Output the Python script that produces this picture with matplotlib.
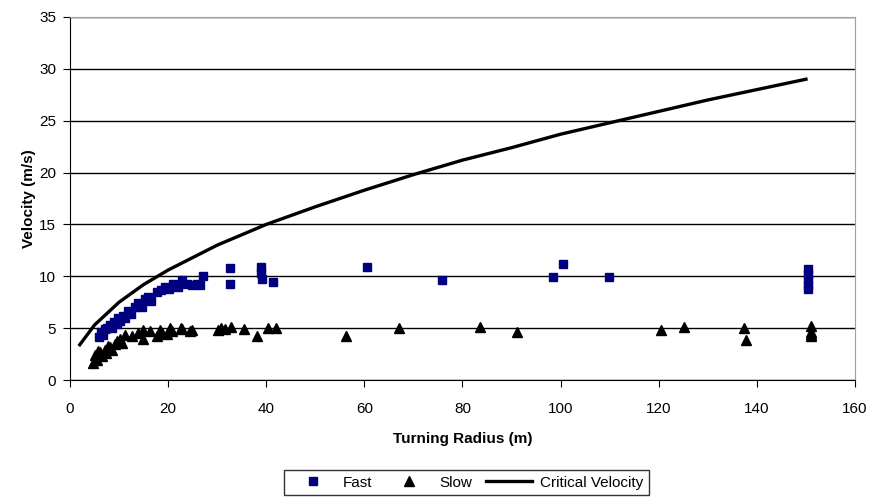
import numpy as np
import matplotlib
matplotlib.use('Agg')
import matplotlib.pyplot as plt

plt.rcParams['font.family'] = ['Liberation Sans', 'DejaVu Sans']

# fast runs
fast_r = [6.0, 6.3, 6.8, 7.2, 7.6, 8.2, 8.6, 9.0, 9.5, 9.8, 10.3, 10.8, 11.3, 11.8, 12.5,
          13.2, 13.9, 14.6, 15.3, 15.9, 16.6, 17.7, 18.5, 19.4, 20.2, 21.0, 22.0, 22.8,
          23.8, 24.9, 25.8, 26.5, 27.1, 32.6, 32.6, 38.9, 39.0, 39.2, 41.4, 60.5, 75.8,
          98.4, 100.5, 109.9, 150.5, 150.5, 150.5, 150.5, 150.5]
fast_v = [4.1, 4.6, 4.3, 4.9, 5.0, 5.3, 5.0, 5.6, 5.4, 6.0, 5.7, 6.2, 6.0, 6.7, 6.4,
          7.0, 7.4, 7.0, 7.8, 8.0, 7.6, 8.5, 8.7, 9.0, 8.8, 9.3, 9.0, 9.6,
          9.3, 9.2, 9.3, 9.2, 10.0, 10.8, 9.25, 10.9, 10.3, 9.7, 9.45, 10.9, 9.64,
          9.9, 11.2, 9.9, 10.7, 10.2, 9.7, 9.2, 8.8]

# slow runs
slow_r = [4.7, 5.1, 5.5, 5.8, 6.1, 6.6, 7.1, 7.4, 7.8, 8.2, 8.6, 9.2, 9.6, 10.2, 10.7,
          11.2, 12.6, 13.9, 14.9, 14.9, 16.3, 17.7, 18.3, 18.7, 19.7, 20.4, 20.7, 22.7,
          22.8, 24.4, 24.8, 30.2, 30.7, 31.6, 32.8, 35.5, 38.1, 40.4, 42.0, 56.3, 67.0,
          83.6, 91.1, 120.5, 125.2, 137.4, 137.8, 151.0, 151.0, 151.0, 151.0]
slow_v = [1.6, 2.4, 1.9, 2.8, 2.7, 2.3, 2.9, 2.6, 3.3, 3.2, 2.9, 3.5, 3.8, 4.0, 3.6,
          4.3, 4.2, 4.5, 4.0, 4.8, 4.7, 4.2, 4.8, 4.5, 4.4, 5.0, 4.7, 5.0,
          4.9, 4.7, 4.8, 4.8, 5.0, 4.9, 5.1, 4.9, 4.25, 5.0, 5.0, 4.2, 5.0,
          5.1, 4.6, 4.8, 5.1, 5.0, 3.85, 5.2, 4.6, 4.4, 4.2]

# critical velocity curve
crit_r = [2, 5, 10, 15, 20, 25, 30, 40, 50, 60, 70, 80, 90, 100, 110, 120, 130, 140, 150]
crit_v = [3.4, 5.3, 7.5, 9.2, 10.6, 11.8, 13.0, 15.0, 16.7, 18.3, 19.8, 21.2, 22.4,
          23.7, 24.8, 25.9, 27.0, 28.0, 29.0]

fig = plt.figure(figsize=(8.8, 4.97), dpi=100)
ax = fig.add_axes([0.0795, 0.2354, 0.8921, 0.7304])

ax.set_xlim(0, 160)
ax.set_ylim(0, 35)
ax.set_xticks(range(0, 161, 20))
ax.set_yticks(range(0, 36, 5))
ax.yaxis.grid(True, color='black', linewidth=1.0)
ax.set_axisbelow(True)

ax.plot(fast_r, fast_v, 's', color='#000080', markersize=6.3, label='Fast', linestyle='none')
ax.plot(slow_r, slow_v, '^', color='black', markersize=7.2, label='Slow', linestyle='none')
ax.plot(crit_r, crit_v, '-', color='black', linewidth=2.4, label='Critical Velocity')

for s in ['top', 'right']:
    ax.spines[s].set_color('#a0a0a0')
for s in ['left', 'bottom']:
    ax.spines[s].set_color('black')
ax.tick_params(direction='out', length=5, labelsize=11, colors='black')
ax.tick_params(axis='x', pad=11)
ax.tick_params(axis='y', pad=5)

ax.set_xlabel('Turning Radius (m)', fontsize=11, fontweight='bold', labelpad=11)
ax.set_ylabel('Velocity (m/s)', fontsize=11, fontweight='bold', labelpad=2)

fig.legend(loc='lower center', bbox_to_anchor=(0.530, 0.004), ncol=3, fontsize=11,
           frameon=True, fancybox=False, edgecolor='black', handlelength=3.0,
           columnspacing=0.9, handletextpad=0.5, borderpad=0.35, borderaxespad=0.0)

fig.savefig('out.png', dpi=100)
